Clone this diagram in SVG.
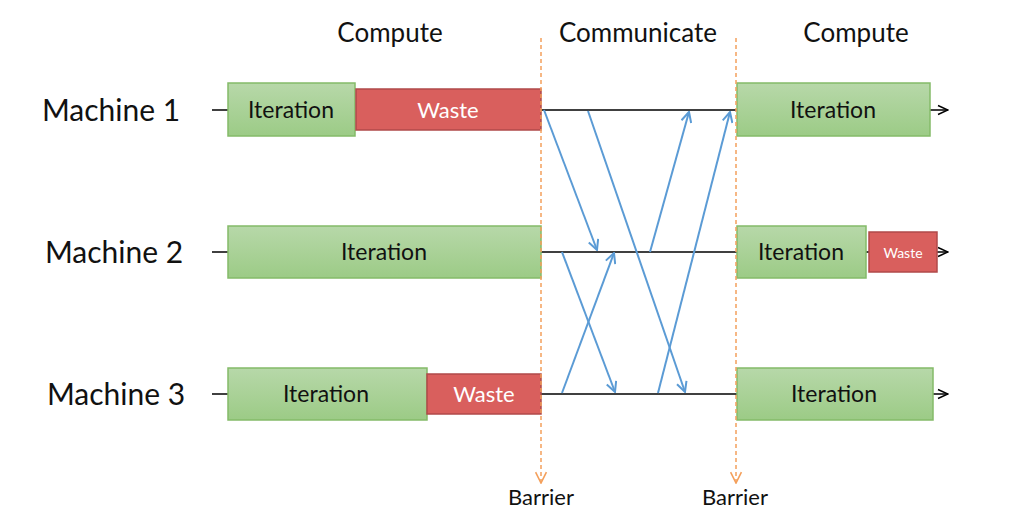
<svg xmlns="http://www.w3.org/2000/svg" width="1024" height="508" viewBox="0 0 1024 508">
<defs>
<linearGradient id="g" x1="0" y1="0" x2="0" y2="1">
<stop offset="0" stop-color="#b7d8a9"/>
<stop offset="1" stop-color="#9ccb86"/>
</linearGradient>
<marker id="blue" viewBox="0 0 12 12" refX="11" refY="6" markerWidth="12" markerHeight="12" markerUnits="userSpaceOnUse" orient="auto">
<path d="M1,1 L11,6 L1,11" fill="none" stroke="#5b9bd5" stroke-width="2"/>
</marker>
<marker id="blk" viewBox="0 0 12 12" refX="11" refY="6" markerWidth="12" markerHeight="12" markerUnits="userSpaceOnUse" orient="auto">
<path d="M1,1.5 L11,6 L1,10.5" fill="none" stroke="#000" stroke-width="1.5"/>
</marker>
<marker id="org" viewBox="0 0 12 12" refX="11" refY="6" markerWidth="13" markerHeight="13" markerUnits="userSpaceOnUse" orient="auto">
<path d="M1,1 L11,6 L1,11" fill="none" stroke="#f4a05c" stroke-width="1.5"/>
</marker>
</defs>
<style>
text{font-family:Lato,"Open Sans","Liberation Sans",sans-serif;fill:#111}
.it{fill:url(#g);stroke:#84bb68;stroke-width:1.5}
.ws{fill:#d95f5d;stroke:#b0494a;stroke-width:1.5}
.tl{stroke:#000;stroke-width:1.5;fill:none}
.bl{stroke:#5b9bd5;stroke-width:2;fill:none;marker-end:url(#blue)}
.br{stroke:#f4a05c;stroke-width:1.5;stroke-dasharray:4,3;fill:none;marker-end:url(#org)}
.lbl{font-size:23px;text-anchor:middle}
.wt{fill:#fff;font-size:22px;text-anchor:middle}
.mc{font-size:30px;text-anchor:middle}
.hd{font-size:26px;text-anchor:middle}
.bt{font-size:22px;text-anchor:middle}
</style>
<g id="headers">
<text class="hd" x="390" y="42">Compute</text>
<text class="hd" x="638" y="42">Communicate</text>
<text class="hd" x="856" y="42">Compute</text>
</g>
<g id="timelines">
<line class="tl" x1="212" y1="110" x2="228" y2="110"/>
<line class="tl" x1="541" y1="110" x2="737" y2="110"/>
<line class="tl" x1="930" y1="110" x2="948" y2="110" marker-end="url(#blk)"/>
<line class="tl" x1="212" y1="252" x2="228" y2="252"/>
<line class="tl" x1="541" y1="252" x2="737" y2="252"/>
<line class="tl" x1="866" y1="252" x2="869" y2="252"/>
<line class="tl" x1="937" y1="252" x2="948" y2="252" marker-end="url(#blk)"/>
<line class="tl" x1="212" y1="394" x2="228" y2="394"/>
<line class="tl" x1="541" y1="394" x2="737" y2="394"/>
<line class="tl" x1="933" y1="394" x2="948" y2="394" marker-end="url(#blk)"/>
</g>
<g id="m1">
<text class="mc" x="111" y="121">Machine 1</text>
<rect class="it" x="228" y="83" width="127" height="53"/>
<text class="lbl" x="291" y="118">Iteration</text>
<rect class="ws" x="356" y="89" width="185" height="41"/>
<text class="wt" x="448" y="118">Waste</text>
<rect class="it" x="737" y="83" width="193" height="53"/>
<text class="lbl" x="833" y="118">Iteration</text>
</g>
<g id="m2">
<text class="mc" x="114" y="263">Machine 2</text>
<rect class="it" x="228" y="226" width="313" height="52"/>
<text class="lbl" x="384" y="260">Iteration</text>
<rect class="it" x="737" y="226" width="129" height="52"/>
<text class="lbl" x="801" y="260">Iteration</text>
<rect class="ws" x="869" y="232" width="68" height="40"/>
<text class="wt" x="903" y="258" style="font-size:14px">Waste</text>
</g>
<g id="m3">
<text class="mc" x="116" y="405">Machine 3</text>
<rect class="it" x="228" y="368" width="199" height="52"/>
<text class="lbl" x="326" y="402">Iteration</text>
<rect class="ws" x="427" y="374" width="114" height="40"/>
<text class="wt" x="484" y="402">Waste</text>
<rect class="it" x="737" y="368" width="196" height="52"/>
<text class="lbl" x="834" y="402">Iteration</text>
</g>
<g id="connectors">
<line class="bl" x1="544" y1="110" x2="597" y2="250"/>
<line class="bl" x1="588" y1="111" x2="685" y2="392"/>
<line class="bl" x1="650" y1="252" x2="689" y2="112"/>
<line class="bl" x1="658" y1="393" x2="730" y2="112"/>
<line class="bl" x1="562" y1="252" x2="615" y2="392"/>
<line class="bl" x1="562" y1="393" x2="614" y2="253"/>
</g>
<g id="barriers">
<line class="br" x1="541" y1="38" x2="541" y2="483"/>
<line class="br" x1="736" y1="38" x2="736" y2="483"/>
<text class="bt" x="541" y="505">Barrier</text>
<text class="bt" x="735" y="505">Barrier</text>
</g>
</svg>
